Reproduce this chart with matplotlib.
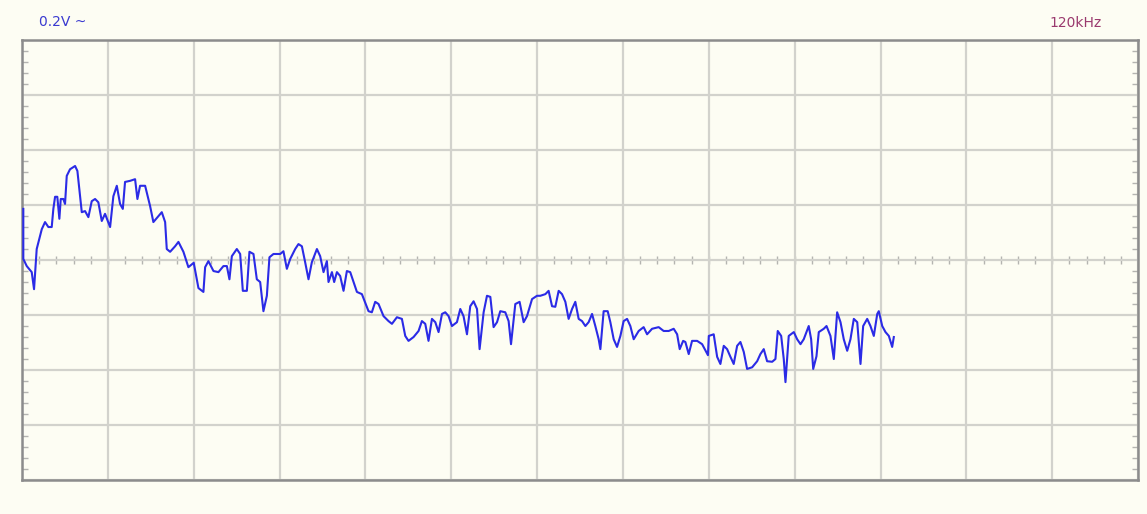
import numpy as np
import matplotlib
matplotlib.use("Agg")
import matplotlib.pyplot as plt

########## scope trace (x, y in divisions) ##########
volts_label = "0.2V ~"
freq_label = "120kHz"
n_xdiv = 13
n_ydiv = 8

t_div = [0.015, 0.015, 0.055, 0.113, 0.14, 0.171, 0.23, 0.268, 0.307, 0.346,
         0.365, 0.385, 0.411, 0.435, 0.451, 0.481, 0.501, 0.521, 0.559, 0.618,
         0.645, 0.668, 0.696, 0.734, 0.773, 0.812, 0.851, 0.889, 0.929, 0.967,
         1.026, 1.064, 1.104, 1.142, 1.174, 1.2, 1.259, 1.317, 1.344, 1.375,
         1.434, 1.492, 1.53, 1.589, 1.628, 1.667, 1.686, 1.725, 1.783, 1.822,
         1.88, 1.938, 2.0, 2.055, 2.113, 2.133, 2.171, 2.23, 2.288, 2.346,
         2.386, 2.416, 2.444, 2.502, 2.541, 2.572, 2.619, 2.649, 2.696, 2.735,
         2.774, 2.812, 2.852, 2.882, 2.929, 3.007, 3.045, 3.085, 3.124, 3.182,
         3.22, 3.26, 3.298, 3.337, 3.376, 3.435, 3.473, 3.512, 3.551, 3.57,
         3.61, 3.636, 3.668, 3.706, 3.745, 3.784, 3.823, 3.862, 3.901, 3.959,
         4.036, 4.075, 4.114, 4.153, 4.211, 4.269, 4.309, 4.367, 4.425, 4.464,
         4.502, 4.561, 4.619, 4.658, 4.697, 4.735, 4.775, 4.814, 4.852, 4.892,
         4.93, 4.969, 5.008, 5.066, 5.105, 5.143, 5.183, 5.221, 5.26, 5.3,
         5.33, 5.377, 5.416, 5.455, 5.493, 5.533, 5.571, 5.629, 5.668, 5.696,
         5.746, 5.796, 5.843, 5.882, 5.941, 5.999, 6.037, 6.096, 6.134, 6.174,
         6.212, 6.251, 6.29, 6.329, 6.367, 6.407, 6.445, 6.484, 6.523, 6.562,
         6.6, 6.64, 6.678, 6.717, 6.737, 6.775, 6.822, 6.853, 6.892, 6.931,
         6.97, 7.008, 7.048, 7.086, 7.125, 7.183, 7.241, 7.281, 7.339, 7.416,
         7.474, 7.533, 7.591, 7.631, 7.661, 7.701, 7.727, 7.766, 7.805, 7.864,
         7.922, 7.99, 8.0, 8.057, 8.097, 8.135, 8.174, 8.213, 8.252, 8.29,
         8.33, 8.368, 8.407, 8.446, 8.505, 8.563, 8.601, 8.64, 8.679, 8.738,
         8.776, 8.803, 8.843, 8.873, 8.893, 8.931, 8.99, 9.029, 9.068, 9.106,
         9.164, 9.192, 9.216, 9.254, 9.281, 9.339, 9.371, 9.417, 9.456, 9.495,
         9.534, 9.572, 9.612, 9.65, 9.689, 9.729, 9.767, 9.798, 9.845, 9.883,
         9.922, 9.962, 9.98, 10.02, 10.058, 10.097, 10.136, 10.155]

v_div = [0.93, 0.02, -0.11, -0.22, -0.53, 0.20, 0.56, 0.69, 0.60, 0.60,
         0.93, 1.15, 1.15, 0.75, 1.11, 1.11, 1.02, 1.53, 1.65, 1.71,
         1.62, 1.29, 0.87, 0.89, 0.78, 1.07, 1.11, 1.05, 0.71, 0.84,
         0.60, 1.16, 1.35, 1.02, 0.93, 1.42, 1.44, 1.47, 1.11, 1.35,
         1.35, 0.98, 0.69, 0.80, 0.87, 0.69, 0.20, 0.15, 0.25, 0.33,
         0.15, -0.13, -0.05, -0.51, -0.58, -0.13, -0.02, -0.20, -0.22, -0.11,
         -0.11, -0.35, 0.07, 0.20, 0.11, -0.56, -0.56, 0.15, 0.11, -0.35,
         -0.40, -0.93, -0.65, 0.05, 0.11, 0.11, 0.16, -0.16, 0.02, 0.20,
         0.29, 0.25, -0.04, -0.35, -0.04, 0.20, 0.07, -0.22, -0.02, -0.40,
         -0.22, -0.40, -0.22, -0.29, -0.56, -0.20, -0.22, -0.40, -0.58, -0.62,
         -0.93, -0.95, -0.76, -0.80, -1.02, -1.11, -1.16, -1.04, -1.07, -1.38,
         -1.47, -1.40, -1.29, -1.11, -1.16, -1.47, -1.07, -1.13, -1.31, -0.98,
         -0.95, -1.02, -1.20, -1.13, -0.89, -1.02, -1.35, -0.84, -0.75, -0.89,
         -1.62, -0.95, -0.65, -0.67, -1.22, -1.13, -0.93, -0.95, -1.11, -1.53,
         -0.80, -0.76, -1.13, -1.02, -0.71, -0.65, -0.65, -0.62, -0.56, -0.84,
         -0.85, -0.56, -0.62, -0.76, -1.07, -0.89, -0.76, -1.07, -1.11, -1.20,
         -1.13, -0.98, -1.20, -1.44, -1.62, -0.93, -0.93, -1.13, -1.44, -1.58,
         -1.38, -1.11, -1.07, -1.20, -1.44, -1.29, -1.22, -1.35, -1.25, -1.22,
         -1.29, -1.29, -1.25, -1.35, -1.62, -1.47, -1.49, -1.71, -1.47, -1.47,
         -1.53, -1.73, -1.38, -1.35, -1.76, -1.89, -1.56, -1.62, -1.76, -1.89,
         -1.56, -1.49, -1.67, -1.98, -1.95, -1.84, -1.71, -1.62, -1.84, -1.85,
         -1.80, -1.29, -1.38, -1.80, -2.22, -1.38, -1.31, -1.44, -1.53, -1.44,
         -1.20, -1.44, -1.98, -1.75, -1.31, -1.25, -1.20, -1.38, -1.80, -0.95,
         -1.13, -1.44, -1.65, -1.44, -1.07, -1.13, -1.89, -1.20, -1.07, -1.20,
         -1.38, -0.98, -0.93, -1.20, -1.31, -1.38, -1.58, -1.40]
########################################

bg = "#fdfdf3"
grid_col = "#d2d2cc"
frame_col = "#8c8c8c"

fig = plt.figure(figsize=(11.47, 5.14), dpi=100, facecolor=bg)
ax = fig.add_axes([0.0192, 0.0661, 0.973, 0.856])
ax.set_facecolor(bg)

ax.set_xlim(0, n_xdiv)
ax.set_ylim(-n_ydiv / 2, n_ydiv / 2)

# graticule
ax.set_xticks(np.arange(0, n_xdiv + 1))
ax.set_yticks(np.arange(-n_ydiv / 2, n_ydiv / 2 + 1))
ax.grid(True, color=grid_col, lw=1.6)
ax.tick_params(axis="both", which="major", length=0, labelleft=False, labelbottom=False)
ax.set_yticks(np.arange(-n_ydiv / 2, n_ydiv / 2, 0.2), minor=True)
ax.tick_params(axis="y", which="minor", direction="in", length=4, width=1,
               color="#b4b4b0", left=True, right=True)
for s in ax.spines.values():
    s.set_color(frame_col)
    s.set_linewidth(1.8)

# small ticks on the centre line
cx = np.arange(0, n_xdiv, 0.2)
ax.plot(cx, np.zeros_like(cx), ls="none", marker="|", ms=6, mew=1, color="#b4b4b0", zorder=1)

# trace
ax.plot(t_div, v_div, color="#2b2be6", lw=1.5, zorder=3)

fig.text(39 / 1147, 1 - 22 / 514, volts_label, color="#3a3ad0", fontsize=10, va="center", ha="left")
fig.text(1102 / 1147, 1 - 23 / 514, freq_label, color="#9a3a6e", fontsize=10, va="center", ha="right")

plt.savefig("out.png", dpi=100, facecolor=bg)
